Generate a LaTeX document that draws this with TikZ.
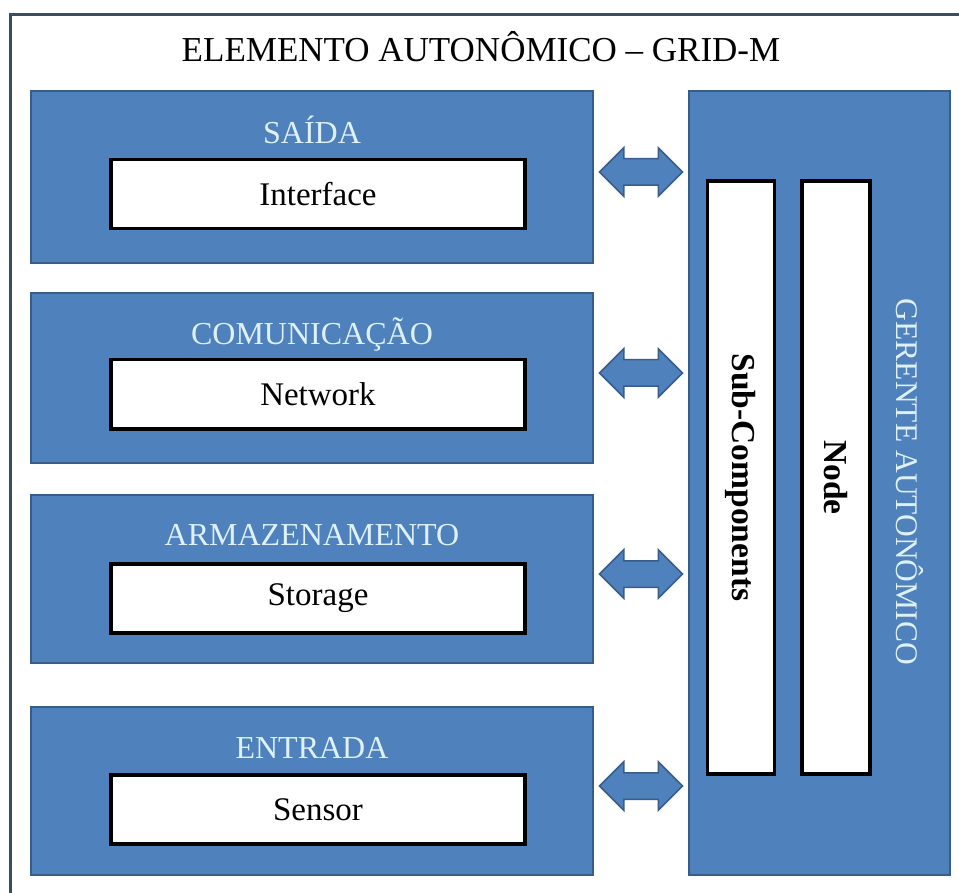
\documentclass[tikz,border=0pt]{standalone}
\usepackage{fontspec}
\setmainfont{Liberation Serif}
\usepackage{xcolor}
\usetikzlibrary{positioning,calc,shapes.arrows}
\definecolor{bluefill}{RGB}{79,129,189}
\definecolor{blueline}{RGB}{56,93,138}
\definecolor{lighttext}{RGB}{222,240,248}
\definecolor{frameline}{RGB}{60,78,94}

\begin{document}
\begin{tikzpicture}
[
x=1pt, y=-1pt,
frame-a/.style={draw=frameline, line width=3pt},
mod-a/.style={rectangle, draw=blueline, line width=2pt, fill=bluefill, minimum width=562pt, minimum height=170pt, inner sep=0pt},
head-a/.style={text=lighttext, font=\fontsize{32}{36}\selectfont, inner sep=0pt, text height=22pt, text depth=6pt},
box-a/.style={rectangle, draw=black, line width=3.5pt, fill=white, minimum width=414pt, minimum height=69pt, inner sep=0pt, font=\fontsize{33}{38}\selectfont},
bar-a/.style={rectangle, draw=black, line width=3.5pt, fill=white, rotate=-90, minimum height=67pt, minimum width=593pt, inner sep=0pt, font=\bfseries\fontsize{33.5}{38}\selectfont},
arr-a/.style={double arrow, draw=blueline, fill=bluefill, line width=1.5pt, inner xsep=0pt, inner ysep=12.5pt, minimum height=83pt, double arrow head extend=11pt}
]
\clip (0,0) rectangle (959,893);
\fill[white] (0,0) rectangle (959,893);
\draw[frame-a] (10,15) rectangle (990,930);

\node (title) at (481,47) {\fontsize{35}{40}\selectfont ELEMENTO AUTONÔMICO – GRID-M};

% left modules
\node (mod-saida)  [mod-a, minimum height=172pt] at (312,177) { };
\node (mod-com)    [mod-a] at (312,378) { };
\node (mod-arm)    [mod-a, minimum height=168pt] at (312,579) { };
\node (mod-ent)    [mod-a, minimum height=168pt] at (312,791) { };

\node (mod-saida-lb) [head-a, below = 31pt of mod-saida.north] {SAÍDA};
\node (mod-com-lb)   [head-a, below = 30pt of mod-com.north]   {COMUNICAÇÃO};
\node (mod-arm-lb)   [head-a, below = 29pt of mod-arm.north]   {ARMAZENAMENTO};
\node (mod-ent-lb)   [head-a, below = 30pt of mod-ent.north]   {ENTRADA};

\node (box-saida) [box-a, below = 68pt of mod-saida.north, xshift=6pt] {Interface};
\node (box-com)   [box-a, below = 66pt of mod-com.north, xshift=6pt]   {Network};
\node (box-arm)   [box-a, below = 68pt of mod-arm.north, xshift=6pt]   {Storage};
\node (box-ent)   [box-a, below = 67pt of mod-ent.north, xshift=6pt]   {Sensor};

% autonomic manager
\node (ger)    [mod-a, minimum width=261pt, minimum height=784pt] at (819.5,483) { };
\node (ger-lb) [text=lighttext, rotate=-90, inner sep=0pt, font=\fontsize{31.5}{34}\selectfont] at (910,482) {GERENTE AUTONÔMICO};
\node (sub-comp) [bar-a] at (741,477.5) {Sub-Components};
\node (node-box) [bar-a, minimum height=68pt] at (836,477.5) {Node};

% arrows
\foreach \m in {saida, com, arm, ent}
  \node (arr-\m) [arr-a, yshift=5pt] at ($(mod-\m.east)!0.5!(mod-\m.east -| ger.west)$) { };
\end{tikzpicture}
\end{document}
